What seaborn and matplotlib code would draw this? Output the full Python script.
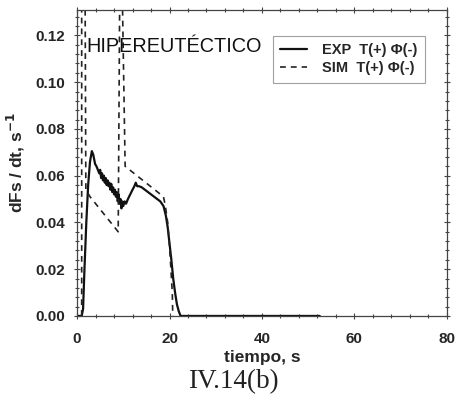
import matplotlib
matplotlib.use("Agg")
import matplotlib.pyplot as plt
from matplotlib.ticker import MultipleLocator
import pandas as pd
import seaborn as sns

# Experimental solidification rate curve
exp_t = [0.0, 1.0, 1.3, 1.6, 2.0, 2.4, 2.8, 3.2, 3.5, 3.9, 4.2, 4.5, 4.8, 5.0,
         5.2, 5.4, 5.6, 5.8, 6.0, 6.2, 6.4, 6.6, 6.8, 7.0, 7.2, 7.4, 7.6, 7.8,
         8.0, 8.2, 8.4, 8.6, 8.8, 9.0, 9.2, 9.4, 9.6, 9.8, 10.0, 10.3, 10.6,
         11.0, 11.5, 12.0, 12.4, 12.7, 13.0, 13.4, 14.0, 15.0, 16.0, 17.0,
         18.0, 18.7, 19.2, 19.6, 20.0, 20.4, 20.8, 21.2, 21.6, 22.0, 22.4, 52.5]
exp_v = [0.0, 0.0, 0.003, 0.020, 0.040, 0.056, 0.066, 0.0705, 0.069, 0.065,
         0.064, 0.0625, 0.061, 0.0625, 0.059, 0.061, 0.058, 0.060, 0.057,
         0.059, 0.056, 0.058, 0.0555, 0.057, 0.054, 0.0565, 0.053, 0.055,
         0.052, 0.054, 0.051, 0.053, 0.049, 0.052, 0.048, 0.050, 0.046, 0.049,
         0.047, 0.049, 0.048, 0.050, 0.052, 0.054, 0.0555, 0.057, 0.0555,
         0.0555, 0.055, 0.0535, 0.052, 0.0505, 0.049, 0.047, 0.043, 0.038,
         0.031, 0.024, 0.016, 0.010, 0.005, 0.002, 0.0, 0.0]

# Simulated solidification rate curve
sim_t = [1.0, 1.0, 1.7, 1.9, 2.8, 8.9, 9.3, 9.6, 10.4, 18.7, 19.1, 19.6,
         20.0, 20.3, 20.6, 20.7]
sim_v = [0.0, 0.16, 0.16, 0.054, 0.051, 0.036, 0.16, 0.16, 0.064, 0.051,
         0.047, 0.040, 0.030, 0.020, 0.010, 0.0]

series_labels = ["EXP  T(+) \u03a6(-)", "SIM  T(+) \u03a6(-)"]
x_ticks = [0, 20, 40, 60, 80]
y_ticks = [0.00, 0.02, 0.04, 0.06, 0.08, 0.10, 0.12]

sns.set_theme(style="white")
plt.rcParams["font.family"] = ["Liberation Sans", "DejaVu Sans"]

fig = plt.figure(figsize=(4.56, 4.03), dpi=100)
ax = fig.add_axes([0.169, 0.216, 0.811, 0.760])

exp_df = pd.DataFrame({"t": exp_t, "v": exp_v})
sim_df = pd.DataFrame({"t": sim_t, "v": sim_v})

sns.lineplot(data=exp_df, x="t", y="v", ax=ax, sort=False, estimator=None,
             color="#111111", lw=1.6, label=series_labels[0])
sns.lineplot(data=sim_df, x="t", y="v", ax=ax, sort=False, estimator=None,
             color="#222222", lw=1.2, dashes=False, label=series_labels[1])
ax.lines[1].set_linestyle((0, (3.5, 3)))

ax.set_xlim(0, 80)
ax.set_ylim(0, 0.131)
ax.set_xticks(x_ticks)
ax.set_yticks(y_ticks)
ax.xaxis.set_minor_locator(MultipleLocator(4))
ax.yaxis.set_minor_locator(MultipleLocator(0.004))
ax.set_xticklabels([str(v) for v in x_ticks], fontweight="bold", fontsize=11)
ax.set_yticklabels([f"{v:.2f}" for v in y_ticks], fontweight="bold", fontsize=11)
ax.tick_params(which="both", direction="inout", bottom=True, left=True,
               top=True, right=True, color="#444444", width=0.8)
ax.tick_params(which="major", length=5, pad=6)
ax.tick_params(which="minor", length=3)
ax.tick_params(axis="x", which="major", pad=9, labeltop=False)
ax.tick_params(axis="y", labelright=False)
for sp in ax.spines.values():
    sp.set_visible(True)
    sp.set_color("#444444")
    sp.set_linewidth(0.9)

ax.set_xlabel("tiempo, s", fontweight="bold", fontsize=12.5, labelpad=3)
ax.set_ylabel("dFs / dt, s$^{\\mathbf{-1}}$", fontweight="bold", fontsize=12.5,
              labelpad=6)

ax.text(1.95, 0.1127, "HIPEREUT\u00c9CTICO", fontsize=14.3, color="#111111")

leg = ax.legend(loc="upper left", bbox_to_anchor=(0.53, 0.915),
                prop={"weight": "bold", "size": 10.5}, frameon=True,
                fancybox=False, handlelength=1.85, handletextpad=1.0,
                borderpad=0.5, labelspacing=0.3, borderaxespad=0)
leg.get_frame().set_edgecolor("#888888")
leg.get_frame().set_linewidth(0.8)

fig.text(0.511, 0.052, "IV.14(b)", family="Liberation Serif", fontsize=19.5,
         ha="center", va="center", color="#222222")

fig.savefig("out.png", dpi=100)
